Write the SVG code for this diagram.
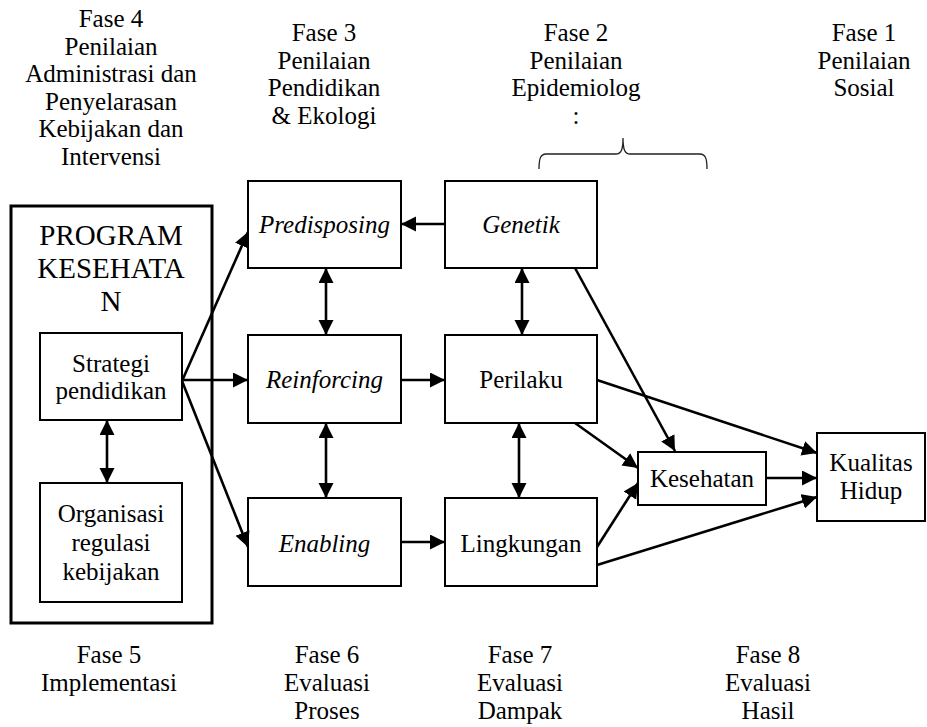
<svg xmlns="http://www.w3.org/2000/svg" width="927" height="727" viewBox="0 0 927 727">
<style>
text{font-family:"Liberation Serif","Times New Roman",serif;font-size:25px;fill:#000;text-anchor:middle}
.it{font-style:italic}
.big{font-size:29px}
.box{fill:#fff;stroke:#000;stroke-width:2}
.outer{fill:#fff;stroke:#000;stroke-width:3}
.c{fill:none;stroke:#000;stroke-width:2.6}
.brace{fill:none;stroke:#222;stroke-width:1.3}
</style>
<defs>
<marker id="ah" markerUnits="userSpaceOnUse" markerWidth="16" markerHeight="16" refX="15" refY="7.5" orient="auto-start-reverse" viewBox="0 0 16 16">
<path d="M0,0 L15,7.5 L0,15 z" fill="#000"/>
</marker>
</defs>
<rect width="927" height="727" fill="#fff"/>
<g id="headers">
<text x="111" y="27">Fase 4</text>
<text x="111" y="55">Penilaian</text>
<text x="111" y="82">Administrasi dan</text>
<text x="111" y="110">Penyelarasan</text>
<text x="111" y="137">Kebijakan dan</text>
<text x="111" y="165">Intervensi</text>
<text x="324" y="41">Fase 3</text>
<text x="324" y="69">Penilaian</text>
<text x="324" y="96">Pendidikan</text>
<text x="324" y="124">&amp; Ekologi</text>
<text x="576" y="41">Fase 2</text>
<text x="576" y="69">Penilaian</text>
<text x="576" y="96">Epidemiolog</text>
<text x="576" y="124">:</text>
<text x="864" y="41">Fase 1</text>
<text x="864" y="69">Penilaian</text>
<text x="864" y="96">Sosial</text>
<text x="109" y="663">Fase 5</text>
<text x="109" y="691">Implementasi</text>
<text x="327" y="663">Fase 6</text>
<text x="327" y="691">Evaluasi</text>
<text x="327" y="719">Proses</text>
<text x="520" y="663">Fase 7</text>
<text x="520" y="691">Evaluasi</text>
<text x="520" y="719">Dampak</text>
<text x="768" y="663">Fase 8</text>
<text x="768" y="691">Evaluasi</text>
<text x="768" y="719">Hasil</text>
</g>
<path class="brace" d="M539,169 C539,160 540,154 546,154 L616,154 C621,154 623,150 623,138 C623,150 625,154 630,154 L700,154 C706,154 707,160 707,169"/>
<g id="program">
<rect class="outer" x="11" y="206" width="201" height="417"/>
<text class="big" x="111" y="245">PROGRAM</text>
<text class="big" x="111" y="278">KESEHATA</text>
<text class="big" x="111" y="311">N</text>
</g>
<g id="strategi">
<rect class="box" x="40" y="333" width="142" height="87"/>
<text x="111" y="372">Strategi</text>
<text x="111" y="399">pendidikan</text>
</g>
<g id="organisasi">
<rect class="box" x="40" y="483" width="142" height="119"/>
<text x="111" y="522">Organisasi</text>
<text x="111" y="551">regulasi</text>
<text x="111" y="580">kebijakan</text>
</g>
<g id="predisposing">
<rect class="box" x="248" y="181" width="153" height="87"/>
<text class="it" x="324.5" y="233">Predisposing</text>
</g>
<g id="genetik">
<rect class="box" x="445" y="181" width="152" height="87"/>
<text class="it" x="521" y="233">Genetik</text>
</g>
<g id="reinforcing">
<rect class="box" x="248" y="335" width="153" height="88"/>
<text class="it" x="324.5" y="388">Reinforcing</text>
</g>
<g id="perilaku">
<rect class="box" x="445" y="335" width="152" height="88"/>
<text x="521" y="388">Perilaku</text>
</g>
<g id="enabling">
<rect class="box" x="248" y="498" width="153" height="88"/>
<text class="it" x="324.5" y="552">Enabling</text>
</g>
<g id="lingkungan">
<rect class="box" x="445" y="498" width="152" height="88"/>
<text x="521" y="552">Lingkungan</text>
</g>
<g id="kesehatan">
<rect class="box" x="638" y="452" width="128" height="53"/>
<text x="702" y="487">Kesehatan</text>
</g>
<g id="kualitas">
<rect class="box" x="817" y="433" width="108" height="88"/>
<text x="871" y="471">Kualitas</text>
<text x="871" y="499">Hidup</text>
</g>
<g id="connectors">
<path class="c" d="M182,381 L248,232" marker-end="url(#ah)"/>
<path class="c" d="M182,380 L248,380" marker-end="url(#ah)"/>
<path class="c" d="M182,381 L248,547" marker-end="url(#ah)"/>
<path class="c" d="M107,420 L107,483" marker-start="url(#ah)" marker-end="url(#ah)"/>
<path class="c" d="M445,224 L401,224" marker-end="url(#ah)"/>
<path class="c" d="M326,268 L326,335" marker-start="url(#ah)" marker-end="url(#ah)"/>
<path class="c" d="M522,268 L522,335" marker-start="url(#ah)" marker-end="url(#ah)"/>
<path class="c" d="M326,423 L326,498" marker-start="url(#ah)" marker-end="url(#ah)"/>
<path class="c" d="M519,423 L519,498" marker-start="url(#ah)" marker-end="url(#ah)"/>
<path class="c" d="M401,380 L445,380" marker-end="url(#ah)"/>
<path class="c" d="M401,542 L445,542" marker-end="url(#ah)"/>
<path class="c" d="M575,268 L675,451" marker-end="url(#ah)"/>
<path class="c" d="M597,380 L817,453" marker-end="url(#ah)"/>
<path class="c" d="M575,423 L638,468" marker-end="url(#ah)"/>
<path class="c" d="M597,547 L638,483" marker-end="url(#ah)"/>
<path class="c" d="M597,565 L817,497" marker-end="url(#ah)"/>
<path class="c" d="M766,478 L817,478" marker-end="url(#ah)"/>
</g>
</svg>
